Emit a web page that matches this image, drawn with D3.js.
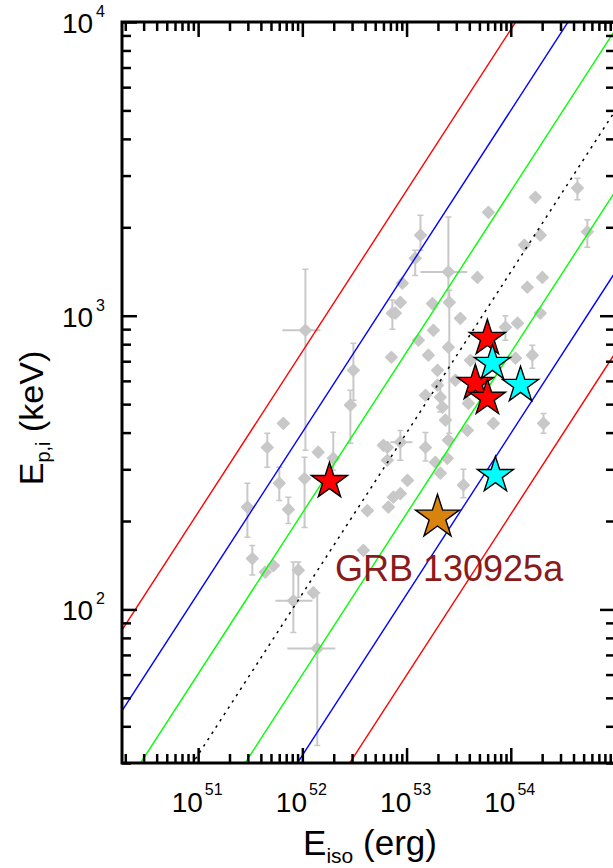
<!DOCTYPE html>
<html>
<head>
<meta charset="utf-8">
<script src="https://cdn.jsdelivr.net/npm/d3@7"></script>
<style>
  html, body { margin: 0; padding: 0; background: #fff; }
  svg { display: block; font-family: "Liberation Sans", Arial, sans-serif; }
</style>
</head>
<body>
<div id="container"></div>
<script>
// sample of GRBs (grey): Eiso in erg, Ep,i in keV
var sampleEiso = [1.07e52, 3.09e52, 2.89e52, 7.31e52, 7.15e52, 6.57e51, 4.61e51, 1.42e52, 1.98e52, 1.05e52,
	6.01e51, 2.97e51, 7.34e51, 4.21e52, 6.69e52, 5.99e52, 7.47e52, 3.31e51, 5.27e51, 4.41e51,
	9.15e51, 8.20e51, 1.275e52, 1.39e52, 3.85e52, 1.36e53, 1.21e53, 9.11e52, 7.81e52, 8.72e52,
	2.52e53, 2.57e53, 4.78e53, 6.10e53, 1.72e54, 1.92e54, 1.35e54, 2.01e54, 1.44e54, 1.92e54,
	4.36e54, 5.43e54, 1.77e53, 1.81e53, 1.30e53, 2.52e53, 1.62e53, 1.98e53, 2.11e53, 3.92e53,
	6.81e53, 2.06e54, 1.61e54, 1.11e54, 8.88e53, 1.16e54, 3.83e53, 2.52e53, 1.98e53, 2.21e53,
	8.72e52, 6.54e52, 1.52e53, 2.46e53, 1.89e53, 2.11e53, 1.02e53, 8.72e52, 3.51e53, 6.54e52,
	3.28e53, 2.94e53, 4.10e53, 2.36e53, 1.52e53];
var sampleEp = [892, 652, 496, 1020, 722, 430, 356, 343, 327, 279,
	269, 223, 219, 217, 223, 362, 241, 149, 141, 134,
	136, 107, 114, 73.6, 159, 1880, 1570, 1290, 1020, 1110,
	1410, 1110, 1350, 2250, 2530, 1880, 1740, 1350, 1250, 1020,
	2720, 1930, 1100, 892, 825, 781, 734, 652, 528, 503,
	430, 430, 734, 717, 914, 943, 407, 377, 580, 488,
	371, 356, 356, 327, 317, 291, 275, 248, 265, 322,
	980, 603, 705, 441, 536];

// vertical error bars: [Eiso, Ep low, Ep high]
var sampleEpErr = [
	[1.07e52, 348, 1440], [3.09e52, 515, 806], [2.89e52, 368, 557], [7.31e52, 900, 1130],
	[4.61e51, 305, 398], [1.98e52, 298, 401], [1.05e52, 190, 330], [6.01e51, 235, 305],
	[2.97e51, 176, 269], [7.34e51, 196, 241], [3.31e51, 131, 165], [9.15e51, 110, 145],
	[8.20e51, 83.5, 145], [1.39e52, 34.4, 114], [1.36e53, 1670, 2200], [1.21e53, 1370, 1670],
	[2.52e53, 1130, 2170], [2.57e53, 398, 1220], [4.36e54, 2480, 2940], [5.43e54, 1710, 2120],
	[2.06e54, 398, 465], [1.61e54, 662, 793], [8.88e53, 825, 1000], [8.72e52, 322, 407],
	[1.52e53, 320, 400], [3.51e53, 240, 300], [2.11e53, 470, 600]
];
// horizontal error bars: [Ep, Eiso low, Eiso high]
var sampleEisoErr = [
	[892, 6.43e51, 1.49e52], [107, 5.51e51, 1.25e52], [73.6, 7.18e51, 2.07e52],
	[1410, 1.36e53, 3.83e53], [371, 6.99e52, 1.14e53]
];

var redEiso = [1.82e52, 5.96e53, 4.57e53, 5.96e53];
var redEp = [273, 838, 589, 524];
var cyanEiso = [6.66e53, 1.24e54, 7.12e53];
var cyanEp = [689, 580, 286];
var grbEiso = [1.98e53];
var grbEp = [206];

// Ep,i = norm * (Eiso/1e52)^slope, lines at 0, +-1, +-2, +-3 sigma (dex)
var corrSlope = 0.548, corrNorm = 113, corrSigma = 0.275;
var sigmaLevels = [-3, -2, -1, 0, 1, 2, 3];
var sigmaColors = ['#ff0000', '#0000ff', '#00ff00', '#000000', '#00ff00', '#0000ff', '#ff0000'];

var xDomain = [1.86e50, 1e55];
var yDomain = [30, 1e4];

var plot = {left: 122, right: 615, top: 22, bottom: 763};
var grey = '#c8c8c8';

var svg = d3.select('div#container')
	.append('svg')
	.attr('width', 613)
	.attr('height', 868);

var x = d3.scaleLog().domain(xDomain).range([plot.left, plot.right]);
var y = d3.scaleLog().domain(yDomain).range([plot.bottom, plot.top]);

svg.append('defs').append('clipPath')
	.attr('id', 'clip')
	.append('rect')
	.attr('x', plot.left)
	.attr('y', plot.top)
	.attr('width', plot.right - plot.left)
	.attr('height', plot.bottom - plot.top);

var g = svg.append('g').attr('clip-path', 'url(#clip)');

// error bars
g.selectAll('line.verr')
	.data(sampleEpErr)
	.join('line')
	.attr('class', 'verr')
	.attr('x1', d => x(d[0])).attr('x2', d => x(d[0]))
	.attr('y1', d => y(d[1])).attr('y2', d => y(d[2]))
	.attr('stroke', grey).attr('stroke-width', 2);

g.selectAll('path.vcap')
	.data(sampleEpErr)
	.join('path')
	.attr('class', 'vcap')
	.attr('d', d => {
		var cx = x(d[0]);
		return 'M' + (cx - 3) + ',' + y(d[1]) + 'H' + (cx + 3) + 'M' + (cx - 3) + ',' + y(d[2]) + 'H' + (cx + 3);
	})
	.attr('stroke', grey).attr('stroke-width', 1.5);

g.selectAll('line.herr')
	.data(sampleEisoErr)
	.join('line')
	.attr('class', 'herr')
	.attr('x1', d => x(d[1])).attr('x2', d => x(d[2]))
	.attr('y1', d => y(d[0])).attr('y2', d => y(d[0]))
	.attr('stroke', grey).attr('stroke-width', 2);

// grey points
var diamond = d3.symbol(d3.symbolSquare, 68);
g.selectAll('path.sample')
	.data(sampleEiso)
	.join('path')
	.attr('class', 'sample')
	.attr('d', diamond)
	.attr('transform', (d, i) => 'translate(' + x(d) + ',' + y(sampleEp[i]) + ') rotate(45)')
	.attr('fill', grey)
	.attr('stroke', grey)
	.attr('stroke-width', 1.5)
	.attr('stroke-linejoin', 'round');

// correlation lines
var line = d3.line().x(d => x(d[0])).y(d => y(d[1]));
g.selectAll('path.corr')
	.data(sigmaLevels)
	.join('path')
	.attr('class', 'corr')
	.attr('d', n => line(xDomain.map(e => [e, corrNorm * Math.pow(e / 1e52, corrSlope) * Math.pow(10, n * corrSigma)])))
	.attr('fill', 'none')
	.attr('stroke', (n, i) => sigmaColors[i])
	.attr('stroke-width', n => n === 0 ? 1.5 : 1.4)
	.attr('stroke-dasharray', n => n === 0 ? '2.5,5' : null);

// stars
function drawStars(eiso, ep, color, r) {
	var star = d3.symbol(d3.symbolStar, r * r / 0.8908);
	g.append('g').selectAll('path')
		.data(eiso)
		.join('path')
		.attr('d', star)
		.attr('transform', (d, i) => 'translate(' + x(d) + ',' + y(ep[i]) + ')')
		.attr('fill', color)
		.attr('stroke', '#000')
		.attr('stroke-width', 1.4)
		.attr('stroke-linejoin', 'miter');
}
drawStars(redEiso, redEp, '#ff0000', 19);
drawStars(cyanEiso, cyanEp, '#00ffff', 19);
drawStars(grbEiso, grbEp, '#d9830f', 23);

svg.append('text')
	.attr('x', 335)
	.attr('y', 581)
	.attr('fill', '#8b1a1a')
	.attr('font-size', '36px')
	.text('GRB 130925a');

// axes: ticks pointing inwards, longer at decades
function isMajor(v) {
	var l = Math.log10(v);
	return Math.abs(l - Math.round(l)) < 1e-6;
}
function addAxis(axis, transform) {
	var ga = svg.append('g')
		.attr('transform', transform)
		.call(axis.tickSize(-9).tickFormat(''));
	ga.select('.domain').remove();
	ga.selectAll('.tick line')
		.attr('stroke', '#000')
		.attr('stroke-width', 2.5)
		.each(function(d) {
			if (!isMajor(d)) return;
			var l = d3.select(this);
			['x2', 'y2'].forEach(a => {
				var v = +l.attr(a);
				if (v) l.attr(a, v * 15 / 9);
			});
		});
}
addAxis(d3.axisBottom(x), 'translate(0,' + plot.bottom + ')');
addAxis(d3.axisTop(x), 'translate(0,' + plot.top + ')');
addAxis(d3.axisLeft(y), 'translate(' + plot.left + ',0)');
addAxis(d3.axisRight(y), 'translate(' + plot.right + ',0)');

svg.append('rect')
	.attr('x', plot.left)
	.attr('y', plot.top)
	.attr('width', plot.right - plot.left)
	.attr('height', plot.bottom - plot.top)
	.attr('fill', 'none')
	.attr('stroke', '#000')
	.attr('stroke-width', 3);

// tick labels 10^n (the decade at the clipped right edge has none)
var xLabels = x.ticks().filter(isMajor).filter(d => x(d) < plot.right - 50);
var yLabels = y.ticks().filter(isMajor);

var xl = svg.selectAll('text.xlab')
	.data(xLabels)
	.join('text')
	.attr('class', 'xlab')
	.attr('x', d => x(d) - 1)
	.attr('y', 812)
	.attr('text-anchor', 'middle')
	.attr('font-size', '28px')
	.text('10');
xl.append('tspan')
	.attr('dx', 2)
	.attr('dy', -17)
	.attr('font-size', '16px')
	.text(d => Math.round(Math.log10(d)));

var yl = svg.selectAll('text.ylab')
	.data(yLabels)
	.join('text')
	.attr('class', 'ylab')
	.attr('x', 105)
	.attr('y', d => y(d) + 11)
	.attr('text-anchor', 'end')
	.attr('font-size', '28px')
	.text('10');
yl.append('tspan')
	.attr('dx', 3)
	.attr('dy', -16)
	.attr('font-size', '16px')
	.text(d => Math.round(Math.log10(d)));

// axis titles
var xt = svg.append('text')
	.attr('x', 370)
	.attr('y', 855)
	.attr('text-anchor', 'middle')
	.attr('font-size', '35px')
	.text('E');
xt.append('tspan').attr('dy', 8).attr('font-size', '21px').text('iso');
xt.append('tspan').attr('dy', -8).text(' (erg)');

var yt = svg.append('text')
	.attr('transform', 'translate(43,418) rotate(-90)')
	.attr('text-anchor', 'middle')
	.attr('font-size', '34px')
	.text('E');
yt.append('tspan').attr('dy', 7).attr('font-size', '20px').text('p,i');
yt.append('tspan').attr('dy', -7).text(' (keV)');
</script>
</body>
</html>
